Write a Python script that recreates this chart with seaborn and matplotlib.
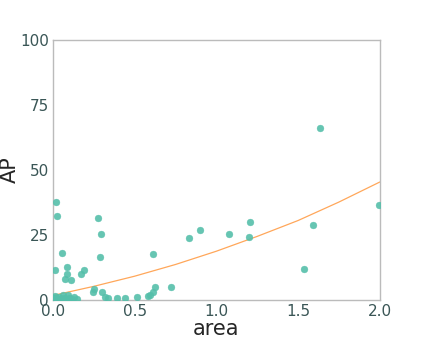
import numpy as np
import pandas as pd
import matplotlib
matplotlib.use("Agg")
import matplotlib.pyplot as plt
import seaborn as sns

area = [0.0, 0.005, 0.01, 0.015, 0.02, 0.03, 0.04, 0.05, 0.06, 0.07, 0.08, 0.09, 0.1, 0.12, 0.13, 0.15,
        0.012, 0.022, 0.026, 0.053, 0.084, 0.073, 0.088, 0.108, 0.171, 0.19,
        0.243, 0.253, 0.279, 0.296, 0.29, 0.302, 0.32, 0.335, 0.39, 0.444, 0.514,
        0.583, 0.597, 0.61, 0.626, 0.61, 0.722, 0.832, 0.9, 1.076, 1.205, 1.2,
        1.635, 1.594, 1.535, 1.994]
ap = [0.5, 1.0, 0.3, 1.5, 0.8, 0.4, 1.2, 0.6, 2.0, 1.0, 0.4, 1.8, 0.7, 0.5, 1.2, 0.3,
      11.5, 37.8, 32.3, 18.0, 12.6, 8.1, 9.9, 7.7, 9.9, 11.5,
      3.0, 4.1, 31.4, 25.6, 16.4, 3.0, 1.2, 0.8, 0.8, 1.0, 1.4,
      1.7, 1.9, 3.0, 5.1, 17.7, 4.9, 24.0, 27.0, 25.6, 29.9, 24.1,
      66.3, 29.0, 11.9, 36.4]

# fitted curve
fit_x = [0.0, 0.25, 0.5, 0.75, 1.0, 1.25, 1.5, 1.75, 2.0]
fit_y = [1.8, 5.3, 9.2, 13.7, 18.8, 24.5, 30.6, 37.7, 45.4]

df = pd.DataFrame({"area": area, "AP": ap})
fit = pd.DataFrame({"area": fit_x, "AP": fit_y})

sns.set_style("white")
plt.rcParams["font.family"] = ["DejaVu Sans"]

fig, ax = plt.subplots(figsize=(4.23, 3.38), dpi=100)
fig.subplots_adjust(left=0.125, right=0.898, top=0.882, bottom=0.112)

sns.scatterplot(data=df, x="area", y="AP", ax=ax, color="#55bfaa", s=24,
                edgecolor="#55bfaa", linewidth=0.3, alpha=0.9, zorder=3)
sns.lineplot(data=fit, x="area", y="AP", ax=ax, color="#ffa75a", linewidth=0.9, zorder=2)

ax.set_xlim(0, 2.0)
ax.set_ylim(0, 100)
ax.set_xticks([0.0, 0.5, 1.0, 1.5, 2.0])
ax.set_yticks([0, 25, 50, 75, 100])
ax.tick_params(labelsize=11, labelcolor="#3a5656", length=2, pad=1, color="#bbbbbb")
ax.set_xlabel("area", fontsize=15, labelpad=0)
ax.set_ylabel("AP", fontsize=15)
ax.yaxis.set_label_coords(-0.1, 0.5)
for sp in ax.spines.values():
    sp.set_color("#bbbbbb")
    sp.set_linewidth(1.0)

fig.savefig("out.png", dpi=100)
